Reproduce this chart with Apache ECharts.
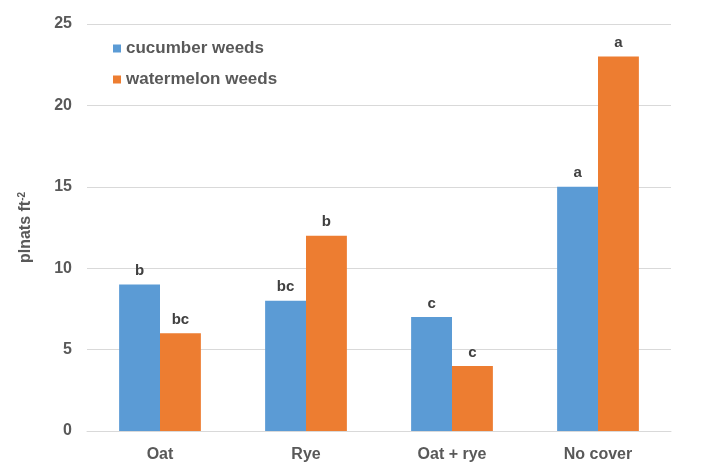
<!DOCTYPE html>
<html><head><meta charset="utf-8">
<script src="https://cdn.jsdelivr.net/npm/echarts@6/dist/echarts.min.js"></script>
<style>html,body{margin:0;padding:0;background:#fff}#c{width:711px;height:476px}</style>
</head><body><div id="c"></div>
<script>
const categories = ['Oat', 'Rye', 'Oat + rye', 'No cover'];
const cucumber = [9, 8, 7, 15];
const watermelon = [6, 12, 4, 23];
const cucumberLetters = ['b', 'bc', 'c', 'a'];
const watermelonLetters = ['bc', 'b', 'c', 'a'];
const yTicks = [0, 5, 10, 15, 20, 25];

const chart = echarts.init(document.getElementById('c'));
const font = 'Arial, "Liberation Sans", sans-serif';
const lbl = (letters) => ({
  show: true, position: 'top', distance: 6,
  color: '#404040', fontSize: 15, fontWeight: 'bold', fontFamily: font,
  formatter: p => letters[p.dataIndex]
});
chart.setOption({
  animation: false,
  grid: { left: 87, right: 40, top: 24, bottom: 45 },
  legend: {
    orient: 'vertical', left: 108, top: 35, itemGap: 14,
    itemWidth: 8, itemHeight: 8, icon: 'rect',
    textStyle: { color: '#595959', fontSize: 17, fontWeight: 'bold', fontFamily: font }
  },
  xAxis: {
    type: 'category', data: categories,
    axisLine: { lineStyle: { color: '#d9d9d9' } },
    axisTick: { show: false },
    axisLabel: { color: '#595959', fontSize: 16, fontWeight: 'bold', fontFamily: font, margin: 16 }
  },
  yAxis: {
    type: 'value', min: 0, max: 25, interval: 5,
    name: '{m|plnats ft}{s|-2}', nameLocation: 'middle', nameGap: 52, nameRotate: 90,
    nameTextStyle: {
      rich: {
        m: { color: '#595959', fontSize: 16, fontWeight: 'bold', fontFamily: font },
        s: { color: '#595959', fontSize: 10, fontWeight: 'bold', fontFamily: font, verticalAlign: 'top', padding: [0,0,8,0] }
      }
    },
    axisLine: { show: false }, axisTick: { show: false },
    splitLine: { lineStyle: { color: '#d9d9d9' } },
    axisLabel: { color: '#595959', fontSize: 16, fontWeight: 'bold', fontFamily: font, margin: 15,
      formatter: v => yTicks.includes(v) ? String(v) : '' }
  },
  series: [
    { name: 'cucumber weeds', type: 'bar', data: cucumber, barGap: '0%', barCategoryGap: '44%',
      itemStyle: { color: '#5B9BD5' }, label: lbl(cucumberLetters) },
    { name: 'watermelon weeds', type: 'bar', data: watermelon, barGap: '0%', barCategoryGap: '44%',
      itemStyle: { color: '#ED7D31' }, label: lbl(watermelonLetters) }
  ]
});
</script></body></html>
